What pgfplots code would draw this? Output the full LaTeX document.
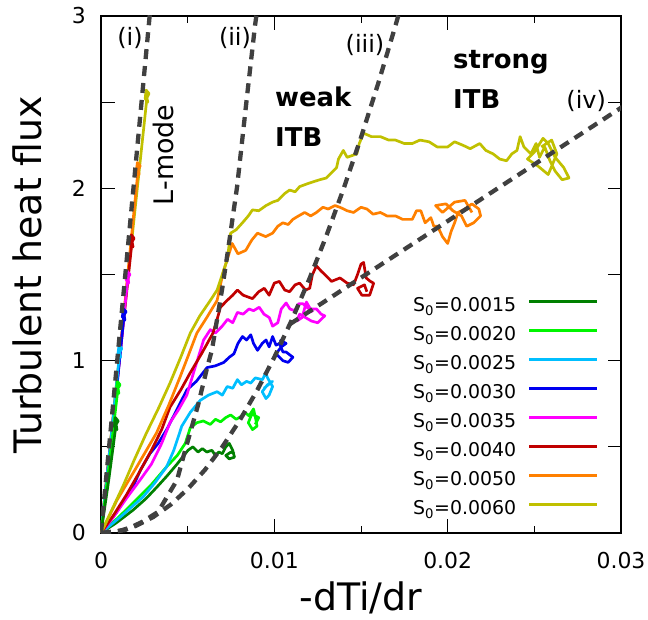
\documentclass[border=0pt]{standalone}
\usepackage{pgfplots}
\pgfplotsset{compat=1.18}
\usepackage{fontspec}
\setmainfont{DejaVu Sans}
\definecolor{cdg}{RGB}{0,128,0}
\definecolor{clg}{RGB}{0,245,0}
\definecolor{ccy}{RGB}{0,191,255}
\definecolor{cbl}{RGB}{0,0,240}
\definecolor{cmg}{RGB}{255,0,255}
\definecolor{crd}{RGB}{192,0,0}
\definecolor{cor}{RGB}{255,128,0}
\definecolor{col}{RGB}{192,192,0}
\definecolor{dgray}{RGB}{64,64,64}
\begin{document}
\begin{tikzpicture}
\begin{axis}[
  at={(0,0)}, anchor=south west,
  width=520bp, height=517bp, scale only axis,
  xmin=0, xmax=0.03, ymin=0, ymax=3,
  scaled x ticks=false, scaled y ticks=false,
  xtick={0,0.01,0.02,0.03}, xticklabels={0,0.01,0.02,0.03},
  minor xtick={0.005,0.015,0.025},
  ytick={0,0.5,1,1.5,2,2.5,3}, yticklabels={0,,1,,2,,3},
  major tick length=13.5bp, minor tick length=7bp,
  tick style={black, line width=1bp},
  axis line style={line width=1.2bp},
  tick label style={font=\fontsize{22}{22}\selectfont, inner sep=0pt},
  xticklabel shift=19bp, yticklabel shift=15bp,
  xlabel={-dTi/dr}, ylabel={Turbulent heat flux},
  label style={font=\fontsize{38}{38}\selectfont, inner sep=0pt},
  xlabel style={at={(axis description cs:0.5,-0.149)}, anchor=base},
  ylabel style={at={(axis description cs:-0.1135,0.5)}, anchor=base},
  no markers,
  every axis plot/.append style={line width=2.7bp, line join=round},
  legend style={at={(axis cs:0.0180,1.398)}, anchor=north west, draw=none, fill=none,
    font=\fontsize{19}{19}\selectfont, row sep=6bp, inner sep=0pt,
    nodes={inner sep=0pt, text height=14bp, text depth=4bp}},
  legend plot pos=right, legend cell align=left,
  legend image code/.code={\path[draw=none,fill=none] (0bp,-4bp) rectangle (81bp,14bp); \draw[#1,line width=3bp] (13bp,5bp) -- (81bp,5bp);},
  dashline/.style={dgray, line width=4.3bp, dash pattern=on 10bp off 7bp, line cap=butt, line join=miter},
]
\addlegendimage{cdg}\addlegendentry{S\textsubscript{0}=0.0015}
\addlegendimage{clg}\addlegendentry{S\textsubscript{0}=0.0020}
\addlegendimage{ccy}\addlegendentry{S\textsubscript{0}=0.0025}
\addlegendimage{cbl}\addlegendentry{S\textsubscript{0}=0.0030}
\addlegendimage{cmg}\addlegendentry{S\textsubscript{0}=0.0035}
\addlegendimage{crd}\addlegendentry{S\textsubscript{0}=0.0040}
\addlegendimage{cor}\addlegendentry{S\textsubscript{0}=0.0050}
\addlegendimage{col}\addlegendentry{S\textsubscript{0}=0.0060}

% L-mode branches
\addplot[col, forget plot] coordinates {(0,0) (0.0013,1.25) (0.00265,2.525) (0.00277,2.55) (0.0026,2.57) (0.00255,2.52) (0.0027,2.50) (0.00265,2.525)};
\addplot[cor, forget plot] coordinates {(0,0) (0.0011,1.05) (0.00214,2.107) (0.00226,2.13) (0.0021,2.15) (0.00204,2.10) (0.0022,2.08) (0.00214,2.107)};
\addplot[crd, forget plot] coordinates {(0,0) (0.0009,0.85) (0.00179,1.69) (0.00191,1.71) (0.00175,1.73) (0.00169,1.68) (0.00185,1.66) (0.00179,1.69)};
\addplot[cmg, forget plot] coordinates {(0,0) (0.0008,0.74) (0.00155,1.48) (0.00167,1.50) (0.0015,1.52) (0.00145,1.47) (0.0016,1.45) (0.00155,1.48)};
\addplot[cbl, forget plot] coordinates {(0,0) (0.0007,0.63) (0.00133,1.265) (0.00145,1.285) (0.0013,1.30) (0.00123,1.255) (0.00138,1.235) (0.00133,1.265)};
\addplot[ccy, forget plot] coordinates {(0,0) (0.00055,0.52) (0.00108,1.05) (0.0012,1.07) (0.00104,1.09) (0.00098,1.04) (0.00113,1.02) (0.00108,1.05)};
\addplot[clg, forget plot] coordinates {(0,0) (0.0005,0.42) (0.00098,0.84) (0.0011,0.86) (0.00094,0.88) (0.00088,0.83) (0.00103,0.81) (0.00098,0.84)};
\addplot[cdg, forget plot] coordinates {(0,0) (0.00045,0.31) (0.00087,0.63) (0.00099,0.65) (0.00083,0.67) (0.00077,0.62) (0.00092,0.60) (0.00087,0.63)};

% ITB branches
\addplot[cdg, forget plot] coordinates {(0,0) (0.0009,0.06) (0.00185,0.133) (0.0026,0.20) (0.00323,0.267) (0.0038,0.33) (0.00444,0.406) (0.0047,0.44) (0.00502,0.48) (0.0053,0.50) (0.0056,0.47) (0.00585,0.49) (0.0061,0.47) (0.0064,0.48) (0.0066,0.45) (0.0068,0.47) (0.0070,0.46) (0.0072,0.50) (0.0074,0.52) (0.0076,0.48) (0.0077,0.44) (0.0074,0.43) (0.0072,0.45) (0.0075,0.47) (0.0077,0.46)};
\addplot[clg, forget plot] coordinates {(0,0) (0.001,0.09) (0.00185,0.174) (0.0029,0.28) (0.00379,0.385) (0.0044,0.45) (0.00486,0.52) (0.00515,0.61) (0.00553,0.64) (0.0059,0.65) (0.00631,0.63) (0.0066,0.66) (0.0069,0.645) (0.0072,0.67) (0.00748,0.685) (0.0078,0.66) (0.00806,0.675) (0.0083,0.70) (0.00854,0.68) (0.0088,0.72) (0.00893,0.66) (0.0090,0.62) (0.00874,0.60) (0.0085,0.64) (0.0087,0.69) (0.0091,0.67) (0.0089,0.63)};
\addplot[ccy, forget plot] coordinates {(0,0) (0.0012,0.10) (0.00243,0.21) (0.0031,0.29) (0.00379,0.385) (0.0042,0.48) (0.00466,0.62) (0.00515,0.70) (0.00573,0.77) (0.0062,0.80) (0.0067,0.82) (0.0070,0.80) (0.00728,0.85) (0.0076,0.84) (0.00787,0.89) (0.0081,0.86) (0.0084,0.88) (0.00864,0.87) (0.0089,0.90) (0.00932,0.89) (0.0095,0.93) (0.00961,0.90) (0.0099,0.85) (0.0097,0.80) (0.00952,0.78) (0.0093,0.82) (0.0096,0.86) (0.0099,0.88) (0.0094,0.84)};
\addplot[cbl, forget plot] coordinates {(0,0) (0.0009,0.12) (0.00185,0.27) (0.0023,0.37) (0.00282,0.46) (0.0033,0.52) (0.00379,0.60) (0.0044,0.72) (0.00495,0.83) (0.0055,0.88) (0.00612,0.96) (0.0066,0.97) (0.00709,0.99) (0.0074,1.02) (0.00767,1.04) (0.0079,1.10) (0.00816,1.14) (0.0084,1.12) (0.00864,1.15) (0.0088,1.10) (0.00903,1.06) (0.0093,1.10) (0.00952,1.12) (0.0097,1.08) (0.0099,1.14) (0.0101,1.09) (0.01029,1.10) (0.0105,1.05) (0.01068,1.05) (0.01107,1.02) (0.0108,0.99) (0.01049,1.00) (0.0101,1.04) (0.0104,1.08) (0.01068,1.10) (0.0103,1.12)};
\addplot[cmg, forget plot] coordinates {(0,0) (0.0007,0.09) (0.00146,0.20) (0.0022,0.30) (0.00291,0.40) (0.0035,0.52) (0.00398,0.64) (0.0045,0.72) (0.00495,0.80) (0.0054,0.95) (0.00592,1.12) (0.00631,1.18) (0.0066,1.16) (0.00699,1.20) (0.0073,1.24) (0.0076,1.22) (0.00787,1.28) (0.0082,1.27) (0.00854,1.30) (0.0088,1.29) (0.00913,1.31) (0.0094,1.27) (0.00971,1.25) (0.0099,1.20) (0.0102,1.22) (0.0104,1.30) (0.01068,1.335) (0.0109,1.30) (0.01117,1.29) (0.0114,1.33) (0.01165,1.33) (0.0120,1.30) (0.01243,1.30) (0.0127,1.27) (0.01291,1.26) (0.0125,1.22) (0.01214,1.23) (0.01146,1.27) (0.0113,1.23) (0.0116,1.25) (0.01185,1.34) (0.0122,1.28)};
\addplot[crd, forget plot] coordinates {(0,0) (0.0007,0.10) (0.00146,0.22) (0.0022,0.35) (0.00291,0.48) (0.0035,0.60) (0.00398,0.73) (0.0046,0.83) (0.00515,0.93) (0.0058,1.04) (0.00646,1.16) (0.0067,1.24) (0.00689,1.31) (0.00728,1.35) (0.0076,1.38) (0.00787,1.41) (0.0082,1.38) (0.00874,1.36) (0.0091,1.40) (0.00942,1.42) (0.0097,1.38) (0.0100,1.45) (0.01029,1.46) (0.0106,1.41) (0.01088,1.40) (0.0112,1.44) (0.01146,1.45) (0.0118,1.41) (0.01204,1.42) (0.0122,1.50) (0.01243,1.55) (0.0127,1.52) (0.01291,1.50) (0.0133,1.46) (0.01379,1.48) (0.0142,1.45) (0.01457,1.44) (0.0148,1.50) (0.0150,1.56) (0.01515,1.57) (0.0153,1.48) (0.01554,1.46) (0.01573,1.45) (0.0155,1.38) (0.01505,1.38) (0.0148,1.42) (0.0152,1.44) (0.01534,1.40)};
\addplot[cor, forget plot] coordinates {(0,0) (0.00092,0.19) (0.00204,0.38) (0.0032,0.58) (0.0039,0.74) (0.00456,0.905) (0.0050,1.02) (0.00553,1.16) (0.0061,1.25) (0.0067,1.35) (0.00704,1.51) (0.00757,1.68) (0.0079,1.62) (0.00835,1.64) (0.0087,1.70) (0.00903,1.74) (0.0095,1.72) (0.0099,1.74) (0.0102,1.78) (0.01049,1.80) (0.0108,1.79) (0.01107,1.82) (0.0114,1.84) (0.01175,1.86) (0.0121,1.84) (0.01243,1.86) (0.0128,1.89) (0.01311,1.88) (0.0135,1.90) (0.01379,1.89) (0.0142,1.87) (0.01457,1.86) (0.0150,1.89) (0.01534,1.88) (0.0157,1.85) (0.01612,1.86) (0.0165,1.84) (0.01699,1.84) (0.0174,1.82) (0.01796,1.82) (0.0182,1.87) (0.01845,1.87) (0.0187,1.80) (0.01903,1.83) (0.0192,1.78) (0.01942,1.78) (0.0197,1.72) (0.0200,1.68) (0.0202,1.75) (0.0204,1.80) (0.0206,1.86) (0.0210,1.88) (0.0214,1.91) (0.0218,1.88) (0.0219,1.84) (0.0215,1.80) (0.0211,1.78) (0.0208,1.84) (0.0203,1.87) (0.0199,1.91) (0.0193,1.90) (0.0197,1.86) (0.0204,1.92) (0.0210,1.93) (0.0214,1.86)};
\addplot[col, forget plot] coordinates {(0,0) (0.00126,0.27) (0.0019,0.42) (0.00262,0.58) (0.0033,0.72) (0.00398,0.87) (0.0046,1.02) (0.00515,1.16) (0.0057,1.26) (0.00631,1.35) (0.0067,1.41) (0.0070,1.50) (0.00728,1.585) (0.00748,1.74) (0.0078,1.76) (0.00816,1.80) (0.0085,1.84) (0.00874,1.875) (0.0091,1.87) (0.00952,1.90) (0.0099,1.92) (0.0102,1.93) (0.0106,1.97) (0.01088,1.99) (0.0112,1.98) (0.01146,2.01) (0.0120,2.03) (0.01262,2.05) (0.0130,2.06) (0.01359,2.12) (0.0137,2.17) (0.01398,2.22) (0.0142,2.18) (0.01476,2.20) (0.0149,2.26) (0.01515,2.32) (0.0156,2.30) (0.01612,2.30) (0.0166,2.28) (0.01699,2.28) (0.0175,2.26) (0.01796,2.26) (0.0184,2.28) (0.01893,2.27) (0.0194,2.24) (0.0200,2.24) (0.0204,2.27) (0.02088,2.25) (0.0213,2.23) (0.02185,2.26) (0.0222,2.22) (0.02262,2.20) (0.0230,2.17) (0.0234,2.16) (0.0237,2.20) (0.0240,2.22) (0.02418,2.30) (0.0244,2.24) (0.0248,2.20) (0.0251,2.26) (0.0253,2.18) (0.0256,2.24) (0.0259,2.16) (0.0262,2.10) (0.0266,2.05) (0.0270,2.06) (0.0267,2.12) (0.0262,2.18) (0.0258,2.26) (0.0255,2.29) (0.0250,2.21) (0.0246,2.17) (0.0252,2.13) (0.0258,2.08) (0.0263,2.20) (0.0260,2.28) (0.0254,2.24)};

% dashed guide curves
\addplot[dashline, forget plot] coordinates {(0,0) (0.0029,3.1)};
\addplot[dashline, forget plot] coordinates {(0,0) (0.00138,0.017) (0.00237,0.064) (0.00329,0.122) (0.00439,0.308) (0.00473,0.435) (0.0056,0.743) (0.00612,0.958) (0.0064,1.062) (0.00698,1.41) (0.00733,1.642) (0.00785,2.008) (0.00842,2.53) (0.00889,2.948) (0.0091,3.1)};
\addplot[dashline, forget plot] coordinates {(0,0) (0.001,0.0102) (0.002,0.0408) (0.003,0.0918) (0.004,0.163) (0.005,0.255) (0.006,0.367) (0.007,0.500) (0.008,0.653) (0.009,0.826) (0.010,1.020) (0.011,1.234) (0.012,1.469) (0.013,1.724) (0.014,1.999) (0.015,2.295) (0.016,2.611) (0.017,2.948) (0.0175,3.124)};
\addplot[dashline, forget plot] coordinates {(0.0109,1.212) (0.031,2.533)};

\node[font=\fontsize{24}{24}\selectfont, inner sep=0pt] at (axis cs:0.00167,2.873) {(i)};
\node[font=\fontsize{24}{24}\selectfont, inner sep=0pt] at (axis cs:0.00773,2.873) {(ii)};
\node[font=\fontsize{24}{24}\selectfont, inner sep=0pt] at (axis cs:0.01523,2.832) {(iii)};
\node[font=\fontsize{24}{24}\selectfont, inner sep=0pt] at (axis cs:0.02799,2.507) {(iv)};
\node[rotate=90, font=\fontsize{27}{27}\selectfont, inner sep=0pt] at (axis cs:0.00358,2.194) {L-mode};
\node[anchor=north west, align=left, inner sep=0pt, font=\bfseries\fontsize{26}{40}\selectfont] at (axis cs:0.01004,2.589) {weak\\ITB};
\node[anchor=north west, align=left, inner sep=0pt, font=\bfseries\fontsize{26}{40}\selectfont] at (axis cs:0.02031,2.803) {strong\\ITB};
\end{axis}
\pgfresetboundingbox
\useasboundingbox (-101bp,-87bp) rectangle (547bp,533bp);
\end{tikzpicture}
\end{document}
